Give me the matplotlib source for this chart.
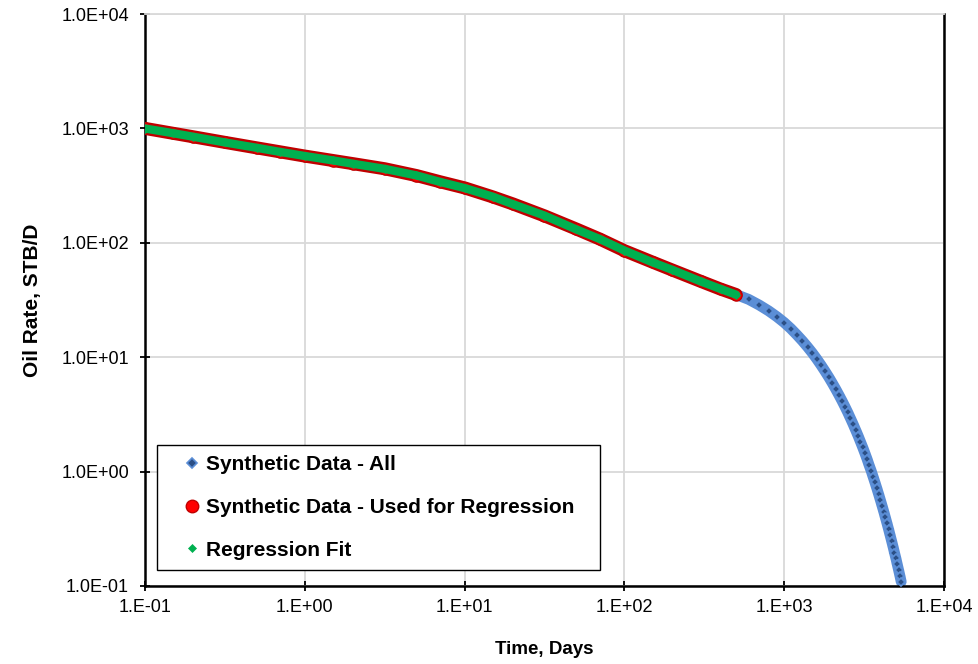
import matplotlib.pyplot as plt
from matplotlib.ticker import FuncFormatter, FixedLocator, NullLocator
import numpy as np

plt.rcParams["font.family"] = ["Liberation Sans", "DejaVu Sans"]

# synthetic rate data (days, STB/D)
time_days = [0.1, 0.15, 0.2, 0.316, 0.5, 0.7, 1.0, 1.5, 2.0, 3.16, 5.0, 7.0,
             10.0, 15.0, 20.0, 31.6, 50.0, 70.0, 100.0, 150.0, 200.0, 300.0,
             400.0, 500.0,
             600, 700, 800, 900, 1000, 1100, 1200, 1300, 1400, 1500, 1600,
             1700, 1800, 1900, 2000, 2100, 2200, 2300, 2400, 2500, 2600, 2700,
             2800, 2900, 3000, 3100, 3200, 3300, 3400, 3500, 3600, 3700, 3800,
             3900, 4000, 4100, 4200, 4300, 4400, 4500, 4600, 4700, 4800, 4900,
             5000, 5100, 5200, 5300, 5400]
oil_rate = [1000, 906, 845, 755, 676, 624, 573, 524, 492, 444, 387, 342,
            302, 252, 219, 172, 132, 108, 85.3, 67.8, 57.7, 46.1,
            39.4, 35.3,
            32.0, 28.5, 25.4, 22.6, 20.1, 17.8, 15.7, 13.9, 12.3, 10.9, 9.64,
            8.53, 7.55, 6.70, 5.94, 5.27, 4.68, 4.16, 3.70, 3.29, 2.92, 2.60,
            2.31, 2.06, 1.83, 1.63, 1.45, 1.29, 1.14, 1.02, 0.904, 0.804, 0.715,
            0.635, 0.565, 0.502, 0.447, 0.397, 0.353, 0.314, 0.279, 0.248, 0.221, 0.196,
            0.175, 0.155, 0.138, 0.123, 0.109]

# points used for the regression and the fitted rates at those times
regression_cutoff = 510.0
fit_rate = [998, 908, 846, 754, 677, 623, 574, 525, 491, 443, 388, 341,
            301, 253, 218, 173, 131, 108, 85.6, 67.5, 57.9, 46.0,
            39.5, 35.2]

t_all = np.array(time_days)
q_all = np.array(oil_rate)
used = t_all <= regression_cutoff
t_reg = t_all[used]
q_reg = q_all[used]

fig = plt.figure(figsize=(9.79, 6.64), dpi=100)
ax = fig.add_axes([0.1481, 0.1175, 0.8161, 0.8614])

# all data: light blue band with dark diamonds
ax.plot(t_all, q_all, color="#5B8ED6", lw=7.8, solid_capstyle="round", zorder=2)
h_all, = ax.plot(t_all, q_all, ls="none", marker="D", ms=4.5, mfc="#2B4F86",
                 mec="#5B8ED6", mew=1.2, zorder=3, label="Synthetic Data - All")

# regression data: red circles
ax.plot(t_reg, q_reg, color="#C00000", lw=9.4, solid_capstyle="round", zorder=4)
h_reg, = ax.plot(t_reg, q_reg, ls="none", marker="o", ms=8.0, mfc="#FF0000",
                 mec="#C00000", mew=1.0, zorder=4,
                 label="Synthetic Data - Used for Regression")

# regression fit: green diamonds
ax.plot(t_reg, fit_rate, color="#00B050", lw=6.0, solid_capstyle="round", zorder=5)
h_fit, = ax.plot(t_reg, fit_rate, ls="none", marker="D", ms=4.0, mfc="#00B050",
                 mec="#00B050", mew=0.5, zorder=6, label="Regression Fit")

ax.set_xscale("log")
ax.set_yscale("log")
ax.set_xlim(0.1, 1e4)
ax.set_ylim(0.1, 1e4)

ax.xaxis.set_major_locator(FixedLocator([0.1, 1, 10, 100, 1000, 10000]))
ax.yaxis.set_major_locator(FixedLocator([0.1, 1, 10, 100, 1000, 10000]))
ax.xaxis.set_minor_locator(NullLocator())
ax.yaxis.set_minor_locator(NullLocator())
ax.xaxis.set_major_formatter(FuncFormatter(lambda v, p: f"{v:.0E}".replace("E", ".E")))
ax.yaxis.set_major_formatter(FuncFormatter(lambda v, p: f"{v:.1E}"))

ax.grid(True, color="#D9D9D9", lw=1.3)
ax.set_axisbelow(True)
ax.tick_params(axis="both", which="major", direction="inout", length=7, width=1.3,
               labelsize=13, colors="black")
ax.tick_params(axis="y", pad=8)
ax.tick_params(axis="x", pad=6)

for side in ["left", "bottom", "right"]:
    ax.spines[side].set_color("black")
    ax.spines[side].set_linewidth(1.8)
ax.spines["top"].set_color("#D9D9D9")
ax.spines["top"].set_linewidth(1.3)

ax.set_xlabel("Time, Days", fontsize=13.5, fontweight="bold", labelpad=18)
ax.set_ylabel("Oil Rate, STB/D", fontsize=15, fontweight="bold", labelpad=14)

leg = ax.legend(handles=[h_all, h_reg, h_fit], loc="lower left",
                bbox_to_anchor=(0.015, 0.028, 0.5545, 0.2), mode="expand",
                borderaxespad=0, prop={"weight": "bold", "size": 15},
                frameon=True, fancybox=False, edgecolor="black", framealpha=1,
                labelspacing=1.14, handlelength=2.4, handletextpad=-0.55,
                borderpad=0.5)
leg.get_frame().set_linewidth(1.0)
leg.legend_handles[0].set_markersize(5)
leg.legend_handles[1].set_markersize(9)
leg.legend_handles[2].set_markersize(4)

fig.savefig("out.png", dpi=100)
